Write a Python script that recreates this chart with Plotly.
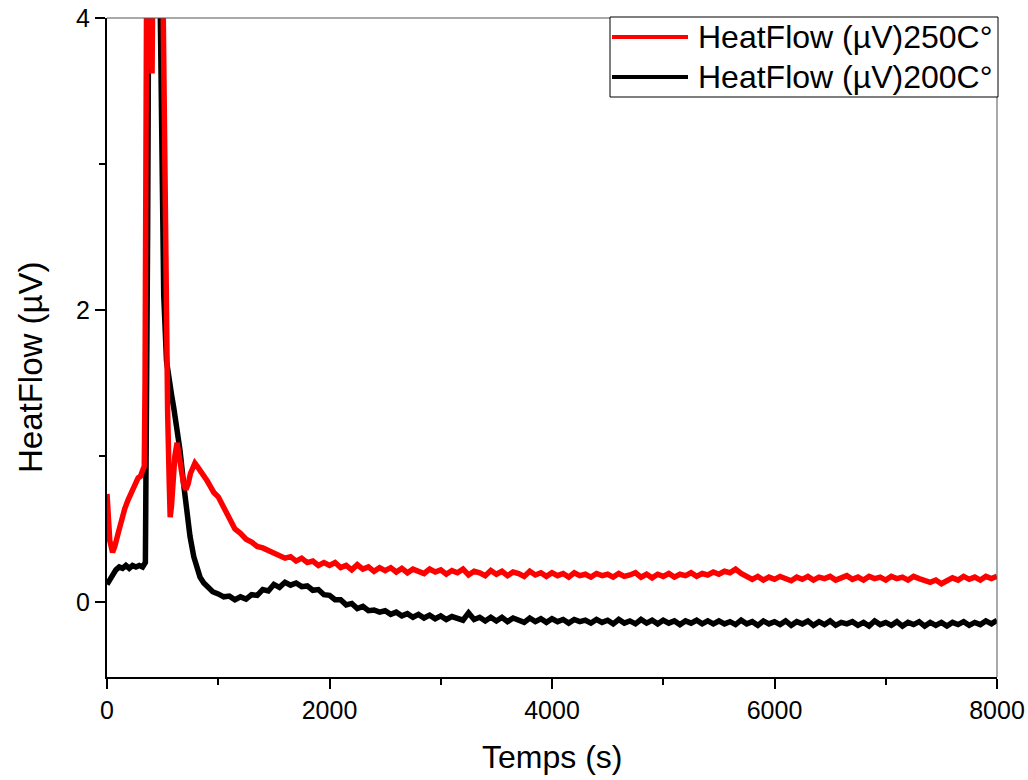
import plotly.graph_objects as go

# ---------------- data ----------------
# Heat flow (µV) versus time (s) for two isothermal runs.

# 250 °C run, start-up and exotherm region (irregular sampling)
red_t_start = [0, 10, 25, 50, 70, 100, 130, 160, 190, 220, 250, 280, 300, 320, 335,
               342, 350, 358, 375, 390, 405, 415, 460, 500, 515, 530, 545, 560, 568,
               580, 595, 610, 630, 650, 670, 690, 710, 730, 750, 770, 790, 810, 840,
               870, 900, 930, 960]
red_v_start = [0.74, 0.60, 0.42, 0.34, 0.38, 0.47, 0.56, 0.64, 0.70, 0.76, 0.80, 0.85, 0.86,
               0.90, 0.93, 1.5, 3.0, 4.6, 4.3, 3.75, 3.62, 4.6, 4.6, 4.4, 3.0, 2.0, 1.3,
               0.80, 0.58, 0.66, 0.86, 1.00, 1.09, 1.00, 0.88, 0.80, 0.77, 0.81, 0.88,
               0.93, 0.95, 0.93, 0.90, 0.86, 0.83, 0.79, 0.75]

# 200 °C run, start-up and exotherm region
black_t_start = [0, 20, 40, 60, 80, 110, 140, 170, 200, 230, 260, 290, 320, 345, 355,
                 365, 372, 378, 470, 490, 510, 535, 560, 580, 600, 630, 656, 690, 720,
                 746, 780, 810, 836, 870, 910, 950]
black_v_start = [0.12, 0.15, 0.18, 0.21, 0.22, 0.24, 0.23, 0.25, 0.23, 0.25, 0.24, 0.25,
                 0.24, 0.27, 1.0, 2.5, 3.7, 4.6, 4.6, 2.8, 2.1, 1.65, 1.48, 1.42, 1.33,
                 1.18, 1.04, 0.80, 0.60, 0.45, 0.31, 0.23, 0.17, 0.13, 0.10, 0.07]

# Both runs logged every 50 s from 1000 s to 8000 s
tail_t = list(range(1000, 8001, 50))

red_v_tail = [
    0.72, 0.64, 0.58, 0.50, 0.47, 0.43, 0.41, 0.38, 0.37, 0.35,
    0.33, 0.32, 0.30, 0.31, 0.28, 0.30, 0.27, 0.28, 0.25, 0.27,
    0.25, 0.27, 0.235, 0.25, 0.22, 0.255, 0.225, 0.24, 0.21, 0.235,
    0.215, 0.235, 0.205, 0.23, 0.20, 0.225, 0.21, 0.195, 0.225, 0.205,
    0.22, 0.19, 0.215, 0.20, 0.225, 0.185, 0.21, 0.20, 0.18, 0.215,
    0.19, 0.21, 0.18, 0.205, 0.195, 0.175, 0.21, 0.185, 0.20, 0.175,
    0.20, 0.18, 0.195, 0.17, 0.20, 0.18, 0.19, 0.17, 0.195, 0.18,
    0.19, 0.17, 0.195, 0.175, 0.185, 0.20, 0.17, 0.19, 0.165, 0.19,
    0.175, 0.195, 0.17, 0.19, 0.18, 0.20, 0.175, 0.195, 0.185, 0.205,
    0.19, 0.21, 0.20, 0.225, 0.195, 0.17, 0.155, 0.175, 0.15, 0.17,
    0.155, 0.175, 0.16, 0.145, 0.17, 0.155, 0.175, 0.15, 0.17, 0.16,
    0.175, 0.15, 0.165, 0.18, 0.155, 0.17, 0.15, 0.175, 0.16, 0.17,
    0.15, 0.175, 0.16, 0.17, 0.15, 0.175, 0.16, 0.15, 0.135, 0.15,
    0.125, 0.145, 0.165, 0.15, 0.175, 0.155, 0.17, 0.15, 0.175, 0.16,
    0.175,
]

black_v_tail = [
    0.055, 0.035, 0.04, 0.015, 0.035, 0.02, 0.05, 0.045, 0.085, 0.075,
    0.12, 0.10, 0.135, 0.115, 0.13, 0.105, 0.11, 0.08, 0.085, 0.05,
    0.045, 0.015, 0.015, -0.02, -0.01, -0.045, -0.03, -0.06, -0.055, -0.07,
    -0.06, -0.085, -0.07, -0.095, -0.08, -0.105, -0.085, -0.11, -0.09, -0.115,
    -0.095, -0.12, -0.10, -0.11, -0.125, -0.075, -0.12, -0.105, -0.13, -0.105,
    -0.13, -0.105, -0.135, -0.11, -0.125, -0.14, -0.11, -0.135, -0.115, -0.14,
    -0.115, -0.135, -0.12, -0.145, -0.12, -0.135, -0.125, -0.145, -0.12, -0.14,
    -0.125, -0.15, -0.12, -0.145, -0.13, -0.15, -0.12, -0.145, -0.125, -0.15,
    -0.125, -0.145, -0.13, -0.155, -0.13, -0.145, -0.125, -0.15, -0.13, -0.15,
    -0.13, -0.15, -0.135, -0.155, -0.125, -0.15, -0.135, -0.16, -0.13, -0.15,
    -0.135, -0.155, -0.13, -0.16, -0.135, -0.15, -0.13, -0.16, -0.135, -0.155,
    -0.13, -0.16, -0.14, -0.15, -0.135, -0.16, -0.14, -0.165, -0.13, -0.155,
    -0.14, -0.16, -0.135, -0.165, -0.14, -0.155, -0.135, -0.165, -0.14, -0.16,
    -0.14, -0.165, -0.14, -0.155, -0.135, -0.16, -0.14, -0.155, -0.13, -0.15,
    -0.125,
]

series_names = ["HeatFlow (µV)250C°", "HeatFlow (µV)200C°"]
x_tick_vals = [0, 2000, 4000, 6000, 8000]
y_tick_vals = [0, 2, 4]

red_t = red_t_start + tail_t
red_v = red_v_start + red_v_tail
black_t = black_t_start + tail_t
black_v = black_v_start + black_v_tail

# ---------------- figure ----------------
W, H = 1028, 780
L, R, T, B = 107, 31, 18, 103
FONT = "Liberation Sans, Arial, sans-serif"


def px_x(px):
    return (px - L) / (W - L - R)


def px_y(py):
    return (H - B - py) / (H - T - B)


fig = go.Figure()
fig.add_trace(go.Scatter(x=black_t, y=black_v, mode="lines", name=series_names[1],
                         line=dict(color="#000000", width=5.5), showlegend=False))
fig.add_trace(go.Scatter(x=red_t, y=red_v, mode="lines", name=series_names[0],
                         line=dict(color="#ff0000", width=5.5), showlegend=False))

axis_common = dict(
    showgrid=False, zeroline=False, showline=True, linecolor="#000000", linewidth=2,
    ticks="outside", ticklen=10, tickwidth=2, tickcolor="#000000", automargin=False,
    tickfont=dict(family=FONT, size=25, color="#000000"),
)
fig.update_xaxes(range=[0, 8000], tickvals=x_tick_vals,
                 minor=dict(dtick=1000, ticks="outside", ticklen=6, tickwidth=2,
                            tickcolor="#000000", showgrid=False),
                 **axis_common)
fig.update_yaxes(range=[-0.514, 4.0], tickvals=y_tick_vals,
                 minor=dict(dtick=1, ticks="outside", ticklen=6, tickwidth=2,
                            tickcolor="#000000", showgrid=False),
                 **axis_common)

shapes = [
    # thin frame on top and right
    dict(type="line", xref="paper", yref="paper", x0=0, x1=1, y0=1, y1=1,
         line=dict(color="#555555", width=1)),
    dict(type="line", xref="paper", yref="paper", x0=1, x1=1, y0=0, y1=1,
         line=dict(color="#555555", width=1)),
    # legend box
    dict(type="rect", xref="paper", yref="paper", x0=px_x(610), x1=px_x(998),
         y0=px_y(97), y1=px_y(17), line=dict(color="#000000", width=1),
         fillcolor="white", layer="above"),
    dict(type="line", xref="paper", yref="paper", x0=px_x(612), x1=px_x(688),
         y0=px_y(37), y1=px_y(37), line=dict(color="#ff0000", width=4), layer="above"),
    dict(type="line", xref="paper", yref="paper", x0=px_x(612), x1=px_x(688),
         y0=px_y(77), y1=px_y(77), line=dict(color="#000000", width=4), layer="above"),
]

annotations = [
    dict(text=series_names[0], xref="paper", yref="paper", x=px_x(696), y=px_y(37),
         xanchor="left", yanchor="middle", showarrow=False,
         font=dict(family=FONT, size=32, color="#000000")),
    dict(text=series_names[1], xref="paper", yref="paper", x=px_x(696), y=px_y(77),
         xanchor="left", yanchor="middle", showarrow=False,
         font=dict(family=FONT, size=32, color="#000000")),
    dict(text="Temps (s)", xref="paper", yref="paper", x=px_x(552), y=px_y(757),
         xanchor="center", yanchor="middle", showarrow=False,
         font=dict(family=FONT, size=32, color="#000000")),
    dict(text="HeatFlow (µV)", xref="paper", yref="paper", x=px_x(30), y=px_y(367),
         xanchor="center", yanchor="middle", showarrow=False, textangle=-90,
         font=dict(family=FONT, size=33, color="#000000")),
]

fig.update_layout(
    width=W, height=H,
    margin=dict(l=L, r=R, t=T, b=B, autoexpand=False),
    paper_bgcolor="white", plot_bgcolor="white",
    shapes=shapes, annotations=annotations,
    showlegend=False,
)

fig.write_html("out.html")
